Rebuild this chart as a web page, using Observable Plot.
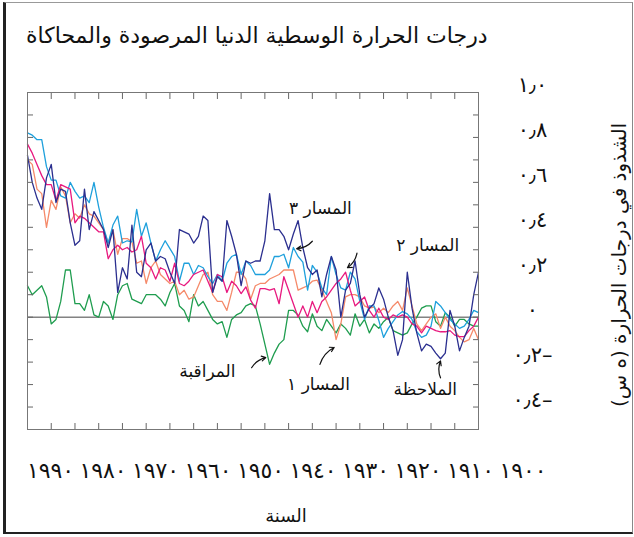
<!DOCTYPE html>
<html><head><meta charset="utf-8">
<script src="https://cdn.jsdelivr.net/npm/d3@7"></script>
<script src="https://cdn.jsdelivr.net/npm/@observablehq/plot@0.6"></script>
<style>
body{margin:0;background:#fff;}
#wrap{position:relative;width:634px;height:537px;overflow:hidden;font-family:"DejaVu Sans",sans-serif;color:#111;}
#box{position:absolute;left:3px;top:2px;width:626px;height:529px;border-left:3px solid #222;border-top:1px solid #999;border-bottom:2px solid #222;border-right:1px solid #888;}
#title{position:absolute;left:26px;top:23px;font-size:22px;direction:rtl;white-space:nowrap;}
#chart{position:absolute;left:0;top:0;}
#years{position:absolute;left:0;top:456px;}
#ytitle{position:absolute;left:619px;top:265px;font-size:20px;direction:rtl;white-space:nowrap;transform:translate(-50%,-50%) rotate(-90deg);}
#xtitle{position:absolute;left:286px;top:515px;font-size:18px;direction:rtl;transform:translate(-50%,-50%);white-space:nowrap;}
</style></head><body>
<div id="wrap">
<div id="box"></div>
<div id="title">درجات الحرارة الوسطية الدنيا المرصودة والمحاكاة</div>
<div id="chart"></div>
<div id="years"></div>
<div id="ytitle">الشذوذ في درجات الحرارة (ه س)</div>
<div id="xtitle">السنة</div>
</div>
<script>
// years 1900 .. 1995
const years = [1900,1901,1902,1903,1904,1905,1906,1907,1908,1909,1910,1911,1912,1913,1914,1915,1916,1917,1918,1919,
1920,1921,1922,1923,1924,1925,1926,1927,1928,1929,1930,1931,1932,1933,1934,1935,1936,1937,1938,1939,
1940,1941,1942,1943,1944,1945,1946,1947,1948,1949,1950,1951,1952,1953,1954,1955,1956,1957,1958,1959,
1960,1961,1962,1963,1964,1965,1966,1967,1968,1969,1970,1971,1972,1973,1974,1975,1976,1977,1978,1979,
1980,1981,1982,1983,1984,1985,1986,1987,1988,1989,1990,1991,1992,1993,1994,1995];

// المراقبة (control)
const control = [-0.04,-0.04,-0.03,-0.01,-0.01,-0.04,0.00,0.02,-0.04,-0.02,
0.05,0.05,0.04,0.00,-0.03,-0.07,-0.08,-0.07,-0.06,0.00,
-0.02,-0.05,-0.03,-0.07,-0.01,-0.04,0.015,-0.08,-0.05,-0.03,
-0.07,-0.04,-0.01,-0.06,-0.04,0.015,-0.065,-0.04,0.01,0.03,
0.03,-0.10,-0.12,-0.16,-0.21,-0.12,-0.03,0.05,0.06,0.05,
0.02,0.01,-0.01,-0.09,-0.02,-0.03,-0.01,0.03,0.07,0.05,
0.10,-0.02,0.03,0.05,0.15,0.11,0.05,0.08,0.10,0.10,
0.10,0.06,0.07,0.08,0.15,0.14,0.10,-0.01,0.05,0.07,
0.00,0.01,0.10,0.03,0.06,0.06,0.21,0.21,0.07,-0.01,
-0.03,0.09,0.14,0.12,0.10,0.14];

// الملاحظة (observed)
const observed = [0.20,0.10,-0.04,-0.09,-0.15,-0.04,0.03,-0.16,-0.185,-0.16,
-0.13,-0.12,-0.15,-0.07,0.04,0.20,-0.10,-0.17,-0.06,0.00,
0.08,0.13,0.06,0.04,0.00,0.10,0.25,0.15,0.12,0.00,
0.21,0.27,0.19,0.09,0.21,0.19,0.22,0.31,0.43,0.37,
0.30,0.36,0.39,0.39,0.55,0.34,0.25,0.25,0.24,0.25,
0.14,0.28,0.36,0.43,0.16,0.18,0.11,0.43,0.45,0.36,
0.33,0.37,0.38,0.39,0.15,0.20,0.26,0.27,0.25,0.33,
0.30,0.18,0.20,0.41,0.17,0.22,0.11,0.39,0.31,0.39,
0.43,0.47,0.39,0.57,0.34,0.32,0.42,0.56,0.57,0.51,
0.68,0.62,0.48,0.53,0.60,0.72];

// المسار ١
const path1 = [-0.10,-0.05,-0.10,-0.11,-0.09,-0.06,-0.04,0.00,-0.05,0.015,
0.00,-0.03,-0.06,-0.03,0.05,0.13,0.03,0.07,0.05,0.02,
0.04,0.02,0.045,0.04,0.05,0.09,0.10,0.10,0.09,-0.03,
-0.10,0.02,0.07,0.12,0.165,0.16,0.14,0.13,0.12,0.21,
0.21,0.21,0.19,0.18,0.17,0.15,0.15,0.14,0.08,0.17,
0.20,0.20,0.11,0.03,0.07,0.07,0.10,0.20,0.19,0.14,
0.09,0.08,0.12,0.10,0.16,0.15,0.17,0.19,0.25,0.22,
0.15,0.25,0.24,0.335,0.35,0.35,0.28,0.39,0.33,0.39,
0.42,0.45,0.46,0.50,0.44,0.46,0.42,0.54,0.58,0.48,
0.52,0.40,0.55,0.57,0.68,0.70];

// المسار ٢
const path2 = [0.00,-0.04,-0.06,-0.087,-0.087,-0.08,-0.06,-0.065,-0.065,-0.06,
-0.05,-0.04,-0.07,-0.04,-0.03,0.00,0.01,0.00,0.01,-0.01,
0.00,0.04,0.00,0.03,0.09,0.07,0.05,0.12,0.20,0.17,
0.15,0.12,0.09,0.07,0.02,0.07,0.00,0.05,0.00,0.06,
0.12,0.18,0.06,0.127,0.12,0.127,0.127,0.04,0.076,0.135,
0.105,0.14,0.16,0.11,0.18,0.19,0.11,0.16,0.21,0.20,
0.19,0.16,0.14,0.15,0.24,0.16,0.21,0.22,0.17,0.22,
0.24,0.36,0.30,0.29,0.31,0.30,0.32,0.30,0.26,0.38,
0.38,0.40,0.42,0.44,0.45,0.42,0.57,0.58,0.59,0.52,
0.59,0.59,0.63,0.68,0.73,0.77];

// المسار ٣
const path3 = [0.02,0.03,-0.01,-0.04,-0.05,-0.03,-0.01,0.02,0.05,0.07,
-0.04,-0.08,-0.09,-0.065,-0.01,0.015,0.025,0.01,-0.02,-0.05,
-0.09,-0.015,0.05,0.05,-0.01,0.07,0.17,0.20,0.12,0.13,
0.19,0.27,0.10,0.13,0.20,0.23,0.12,0.245,0.27,0.31,
0.22,0.28,0.27,0.27,0.21,0.19,0.19,0.19,0.23,0.25,
0.19,0.28,0.27,0.24,0.16,0.19,0.15,0.18,0.22,0.23,
0.19,0.24,0.24,0.16,0.27,0.305,0.34,0.30,0.25,0.33,
0.42,0.36,0.48,0.335,0.34,0.33,0.45,0.41,0.33,0.40,
0.49,0.60,0.51,0.54,0.53,0.56,0.60,0.53,0.54,0.61,
0.61,0.67,0.79,0.79,0.81,0.82];

const seriesNames = ["control", "path1", "path3", "path2", "observed"];
const seriesColors = ["#1f9d4f", "#f58a6a", "#1ea0dc", "#e8197f", "#2b2f8f"];
const seriesValues = {control, path1, path3, path2, observed};

const xTicks = [1905,1910,1915,1920,1925,1930,1935,1940,1945,1950,1955,1960,1965,1970,1975,1980,1985,1990];
const yTicks = [-0.4,-0.3,-0.2,-0.1,0,0.1,0.2,0.3,0.4,0.5,0.6,0.7,0.8,0.9];
const yLabelTicks = [-0.4,-0.2,0,0.2,0.4,0.6,0.8,1.0];
const yearLabels = [1900,1910,1920,1930,1940,1950,1960,1970,1980,1990];

const labels = [
  {text: "المسار ٣", year: 1933.3, value: 0.484},
  {text: "المسار ٢", year: 1910.7, value: 0.32},
  {text: "المراقبة", year: 1957.1, value: -0.24},
  {text: "المسار ١", year: 1933.7, value: -0.30},
  {text: "الملاحظة", year: 1911.2, value: -0.32}
];
const arrows = [
  {year1: 1935.0, value1: 0.338, year2: 1938.3, value2: 0.305},
  {year1: 1925.6, value1: 0.285, year2: 1927.6, value2: 0.22},
  {year1: 1947.8, value1: -0.225, year2: 1944.8, value2: -0.18},
  {year1: 1933.4, value1: -0.21, year2: 1930.4, value2: -0.135},
  {year1: 1908.0, value1: -0.27, year2: 1908.0, value2: -0.195}
];

const AR = "٠١٢٣٤٥٦٧٨٩";
const ar = s => String(s).replace(/[0-9]/g, d => AR[+d]);
const yFmt = v => {
  if (Math.abs(v) < 1e-9) return "٠";
  const s = ar(Math.abs(v).toFixed(1)).replace(".", "٫");
  return v < 0 ? s + "–" : s;
};

const table = [];
seriesNames.forEach(name => seriesValues[name].forEach((v, i) => table.push({year: years[i], value: v, series: name})));

const noText = () => "";
const chart = Plot.plot({
  width: 634, height: 537,
  marginTop: 92, marginBottom: 108, marginLeft: 27, marginRight: 156,
  x: {domain: [1995, 1900]},
  y: {domain: [-0.5, 1.0]},
  color: {domain: seriesNames, range: seriesColors},
  style: {fontFamily: "DejaVu Sans, sans-serif", background: "transparent", color: "#111"},
  marks: [
    Plot.ruleY([0], {stroke: "#444", strokeWidth: 1}),
    Plot.line(table, {x: "year", y: "value", z: "series", stroke: "series", strokeWidth: 1.3}),
    Plot.axisX({anchor: "bottom", ticks: xTicks, tickSize: -6, tickFormat: noText, label: null, stroke: "#666"}),
    Plot.axisX({anchor: "top", ticks: xTicks, tickSize: -6, tickFormat: noText, label: null, stroke: "#666"}),
    Plot.axisY({anchor: "left", ticks: yTicks, tickSize: -6, tickFormat: noText, label: null, stroke: "#666"}),
    Plot.axisY({anchor: "right", ticks: yTicks, tickSize: -6, tickFormat: noText, label: null, stroke: "#666"}),
    Plot.axisY({anchor: "right", ticks: yLabelTicks, tickSize: 0, tickPadding: 0, tickFormat: yFmt,
      textAnchor: "middle", dx: 54, dy: -7, fontSize: 21, label: null, fill: "#111"}),
    Plot.frame({stroke: "#777"}),
    Plot.arrow(arrows, {x1: "year1", y1: "value1", x2: "year2", y2: "value2", bend: true, stroke: "#111", strokeWidth: 1.2, headLength: 6}),
    Plot.text(labels, {x: "year", y: "value", text: "text", fontSize: 17, fill: "#111", textAnchor: "middle"})
  ]
});
document.getElementById("chart").appendChild(chart);

const yearAxis = Plot.plot({
  width: 634, height: 44, marginTop: 0, marginBottom: 40, marginLeft: 0, marginRight: 0,
  x: {domain: [1995, 1900], range: [23.8, 522.5]},
  style: {fontFamily: "DejaVu Sans, sans-serif", background: "transparent", color: "#111", overflow: "visible"},
  marks: [
    Plot.axisX({anchor: "bottom", ticks: yearLabels, tickSize: 0, tickPadding: 2, tickFormat: d => ar(d), fontSize: 22, label: null})
  ]
});
document.getElementById("years").appendChild(yearAxis);
</script>
</body></html>
